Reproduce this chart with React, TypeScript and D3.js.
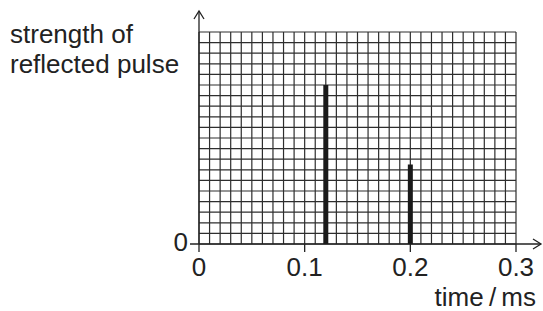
import React, { useEffect, useRef } from 'react'
import * as d3 from 'd3'

const pulseTimes = [0.12, 0.2]
const pulseStrengths = [15, 7.5]
const xTicks = [0, 0.1, 0.2, 0.3]
const xTickLabels = ['0', '0.1', '0.2', '0.3']
const yLabelLines = ['strength of', 'reflected pulse']
const xTitle = 'time\u2009/\u2009ms'

export default function App() {
  const svgRef = useRef<SVGSVGElement>(null)

  useEffect(() => {
    const svg = d3.select(svgRef.current)
    svg.selectAll('*').remove()

    const width = 543
    const height = 311
    const font = '"Liberation Sans", Arial, sans-serif'

    const x = d3.scaleLinear().domain([0, 0.3]).range([199, 516])
    const y = d3.scaleLinear().domain([0, 20]).range([244, 32])

    const g = svg.append('g')

    // grid, one square per 0.01 ms and per unit of strength
    const grid = g.append('g').attr('stroke', '#2e2e2e').attr('stroke-width', 1.2)
    grid
      .selectAll('line.v')
      .data(d3.range(0, 31))
      .enter()
      .append('line')
      .attr('x1', (d) => x(d / 100))
      .attr('x2', (d) => x(d / 100))
      .attr('y1', y(0))
      .attr('y2', y(20))
    grid
      .selectAll('line.h')
      .data(d3.range(0, 21))
      .enter()
      .append('line')
      .attr('x1', x(0))
      .attr('x2', x(0.3))
      .attr('y1', (d) => y(d))
      .attr('y2', (d) => y(d))

    // axes
    const axis = g.append('g').attr('stroke', '#222').attr('stroke-width', 1.3).attr('fill', 'none')
    axis.append('line').attr('x1', x(0)).attr('x2', x(0)).attr('y1', y(0)).attr('y2', 11)
    axis.append('path').attr('d', `M${x(0) - 5},${19} L${x(0)},${11} L${x(0) + 5},${19}`)
    axis.append('line').attr('x1', 190).attr('x2', 541).attr('y1', y(0)).attr('y2', y(0))
    axis.append('path').attr('d', `M${533},${y(0) - 5} L${541},${y(0)} L${533},${y(0) + 5}`)

    axis
      .selectAll('line.tick')
      .data(xTicks)
      .enter()
      .append('line')
      .attr('x1', (d) => x(d))
      .attr('x2', (d) => x(d))
      .attr('y1', y(0))
      .attr('y2', y(0) + 8)

    // pulses
    g.selectAll('rect.pulse')
      .data(pulseTimes)
      .enter()
      .append('rect')
      .attr('x', (d) => x(d) - 2.5)
      .attr('width', 5)
      .attr('y', (d, i) => y(pulseStrengths[i]))
      .attr('height', (d, i) => y(0) - y(pulseStrengths[i]))
      .attr('fill', '#1a1a1a')

    // text
    const text = g.append('g').attr('font-family', font).attr('font-size', 26).attr('fill', '#222')
    text
      .selectAll('text.xt')
      .data(xTicks)
      .enter()
      .append('text')
      .attr('x', (d) => x(d))
      .attr('y', 276)
      .attr('text-anchor', 'middle')
      .text((d, i) => xTickLabels[i])
    text.append('text').attr('x', 188).attr('y', 251).attr('text-anchor', 'end').text('0')
    text
      .selectAll('text.yl')
      .data(yLabelLines)
      .enter()
      .append('text')
      .attr('x', 10)
      .attr('y', (d, i) => 43 + i * 30)
      .text((d) => d)
    text.append('text').attr('x', 536).attr('y', 306).attr('text-anchor', 'end').text(xTitle)

    svg.attr('width', width).attr('height', height)
  }, [])

  return (
    <svg
      ref={svgRef}
      width={543}
      height={311}
      style={{ position: 'absolute', left: 0, top: 0, background: '#fff' }}
    ></svg>
  )
}
